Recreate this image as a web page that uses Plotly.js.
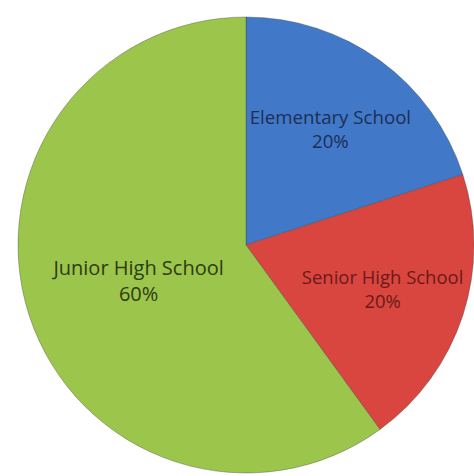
<!DOCTYPE html>
<html>
<head>
<meta charset="utf-8">
<script src="https://cdn.plot.ly/plotly-3.0.1.min.js"></script>
<style>html,body{margin:0;padding:0;background:#fff;}#chart{width:474px;height:476px;}</style>
</head>
<body>
<div id="chart"></div>
<script>
const categories = ["Elementary School", "Senior High School", "Junior High School"];
const shares = [20, 20, 60];
const sliceColors = ["#4179c8", "#d8463f", "#9cc54b"];
const textColors = ["#1c2f55", "#6b1a18", "#2e3c12"];

const trace = {
  type: "pie",
  labels: categories,
  values: shares,
  sort: false,
  direction: "clockwise",
  rotation: 0,
  marker: { colors: sliceColors, line: { color: "rgba(60,60,60,0.35)", width: 1 } },
  texttemplate: "%{label}<br>%{percent:.0%}",
  textposition: "inside",
  insidetextorientation: "horizontal",
  textfont: { family: "Open Sans, Lato, sans-serif", size: 20, color: textColors },
  hoverinfo: "label+percent",
  domain: { x: [0.038, 1], y: [0.0063, 0.9643] }
};

const layout = {
  width: 474, height: 476,
  margin: { l: 0, r: 0, t: 0, b: 0 },
  showlegend: false,
  paper_bgcolor: "#fff"
};
Plotly.newPlot("chart", [trace], layout, { displayModeBar: false, staticPlot: true });
</script>
</body>
</html>
